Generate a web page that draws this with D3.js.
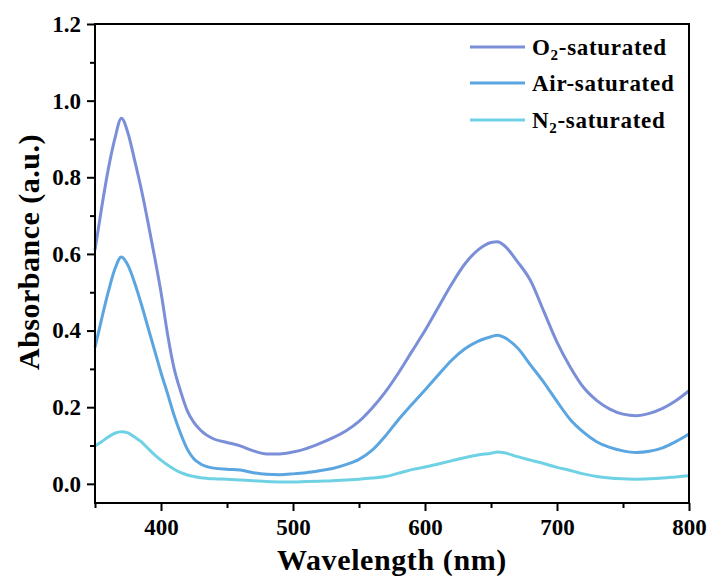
<!DOCTYPE html>
<html>
<head>
<meta charset="utf-8">
<script src="https://cdn.jsdelivr.net/npm/d3@7"></script>
<style>
  body { margin: 0; background: #fff; }
  text { font-family: "Liberation Serif", "Times New Roman", serif; font-weight: bold; fill: #000; }
</style>
</head>
<body>
<script>
// wavelength (nm)
let wavelength = [350,355,360,365,370,375,380,385,390,395,400,405,410,415,420,425,
    430,440,450,460,470,480,490,500,510,520,530,540,550,560,570,580,590,600,610,620,630,640,650,
    655,
    660,670,680,690,700,710,720,730,740,750,760,770,780,790,800];

let o2Sat = [0.61,0.72,0.82,0.90,0.954,0.915,0.845,0.77,0.685,0.595,0.50,0.39,0.30,0.24,0.19,0.16,
    0.14,0.117,0.108,0.099,0.086,0.078,0.078,0.083,0.092,0.105,0.12,0.138,0.163,0.198,0.24,0.29,0.345,0.40,0.46,0.52,0.573,0.61,0.63,
    0.632,
    0.622,0.58,0.53,0.45,0.37,0.305,0.252,0.218,0.195,0.182,0.178,0.184,0.197,0.217,0.243];

let airSat = [0.356,0.43,0.50,0.56,0.592,0.57,0.525,0.47,0.41,0.35,0.29,0.235,0.178,0.13,0.09,0.065,
    0.052,0.041,0.038,0.036,0.029,0.025,0.024,0.026,0.029,0.034,0.040,0.05,0.064,0.088,0.125,0.168,0.207,0.245,0.284,0.322,0.352,0.372,0.384,
    0.388,
    0.382,0.355,0.31,0.265,0.215,0.168,0.135,0.11,0.095,0.086,0.082,0.085,0.094,0.11,0.13];

let n2Sat = [0.099,0.11,0.122,0.132,0.136,0.133,0.122,0.11,0.093,0.076,0.062,0.049,0.038,0.029,0.023,0.019,
    0.016,0.013,0.012,0.010,0.008,0.006,0.005,0.005,0.006,0.007,0.008,0.010,0.012,0.015,0.019,0.028,0.037,0.044,0.052,0.06,0.068,0.075,0.08,
    0.083,
    0.081,0.071,0.062,0.053,0.043,0.035,0.026,0.019,0.015,0.013,0.012,0.013,0.015,0.018,0.021];

// legend: [main, subscript, rest]
let seriesLabels = [["O", "2", "-saturated"], ["Air-saturated", "", ""], ["N", "2", "-saturated"]];
let xTicks = [400, 500, 600, 700, 800];
let xMinor = [350, 450, 550, 650, 750];
let yTicks = [0.0, 0.2, 0.4, 0.6, 0.8, 1.0, 1.2];
let yMinor = [0.1, 0.3, 0.5, 0.7, 0.9, 1.1];

let colors = ["#7a8fd8", "#5ba6e0", "#6fd2e4"];

let w = 712, h = 581;
let mLeft = 95, mRight = 689, mTop = 24, mBottom = 503;

let svg = d3.select("body").append("svg")
    .attr("width", w)
    .attr("height", h);

let xScale = d3.scaleLinear().domain([350, 800]).range([mLeft, mRight]);
let yScale = d3.scaleLinear().domain([-0.05, 1.2]).range([mBottom, mTop]);

/************** curves **************/
let line = d3.line()
    .x(function(d) { return xScale(d[0]); })
    .y(function(d) { return yScale(d[1]); })
    .curve(d3.curveMonotoneX);

[o2Sat, airSat, n2Sat].forEach(function(s, i) {
    svg.append("path")
        .datum(wavelength.map(function(x, j) { return [x, s[j]]; }))
        .attr("d", line)
        .attr("fill", "none")
        .attr("stroke", colors[i])
        .attr("stroke-width", 3)
        .attr("stroke-linejoin", "round");
});

/************** axes **************/
svg.append("g")
    .attr("transform", "translate(0," + mBottom + ")")
    .call(d3.axisBottom(xScale).tickValues(xTicks).tickSize(8).tickPadding(8).tickFormat(d3.format("d")));
svg.append("g")
    .attr("transform", "translate(0," + mBottom + ")")
    .call(d3.axisBottom(xScale).tickValues(xMinor).tickSize(5).tickFormat(""));

svg.append("g")
    .attr("transform", "translate(" + mLeft + ",0)")
    .call(d3.axisLeft(yScale).tickValues(yTicks).tickSize(8).tickPadding(6).tickFormat(d3.format(".1f")));
svg.append("g")
    .attr("transform", "translate(" + mLeft + ",0)")
    .call(d3.axisLeft(yScale).tickValues(yMinor).tickSize(5).tickFormat(""));

svg.selectAll(".domain").remove();
svg.selectAll(".tick line").attr("stroke", "#000").attr("stroke-width", 2);
svg.selectAll(".tick text")
    .attr("font-family", "'Liberation Serif', serif")
    .attr("font-weight", "bold")
    .attr("font-size", "23px")
    .attr("fill", "#000");

// frame
svg.append("rect")
    .attr("x", mLeft).attr("y", mTop)
    .attr("width", mRight - mLeft).attr("height", mBottom - mTop)
    .attr("fill", "none")
    .attr("stroke", "#000")
    .attr("stroke-width", 2);

/************** titles **************/
svg.append("text")
    .attr("x", (mLeft + mRight) / 2)
    .attr("y", 570)
    .attr("text-anchor", "middle")
    .attr("font-size", "30px")
    .attr("letter-spacing", 0.6)
    .text("Wavelength (nm)");

svg.append("text")
    .attr("transform", "translate(39,252) rotate(-90)")
    .attr("text-anchor", "middle")
    .attr("font-size", "30px")
    .attr("letter-spacing", 0.5)
    .text("Absorbance (a.u.)");

/************** legend **************/
let legendY = [47, 83, 120];
seriesLabels.forEach(function(lab, i) {
    let y = legendY[i];
    svg.append("line")
        .attr("x1", 470).attr("x2", 525)
        .attr("y1", y).attr("y2", y)
        .attr("stroke", colors[i])
        .attr("stroke-width", 3);
    let t = svg.append("text")
        .attr("x", 532)
        .attr("y", y + 8)
        .attr("font-size", "23px")
        .attr("letter-spacing", 0.7);
    t.append("tspan").text(lab[0]);
    if (lab[1]) {
        t.append("tspan").attr("font-size", "15px").attr("dy", 5).text(lab[1]);
        t.append("tspan").attr("dy", -5).text(lab[2]);
    }
});
</script>
</body>
</html>
